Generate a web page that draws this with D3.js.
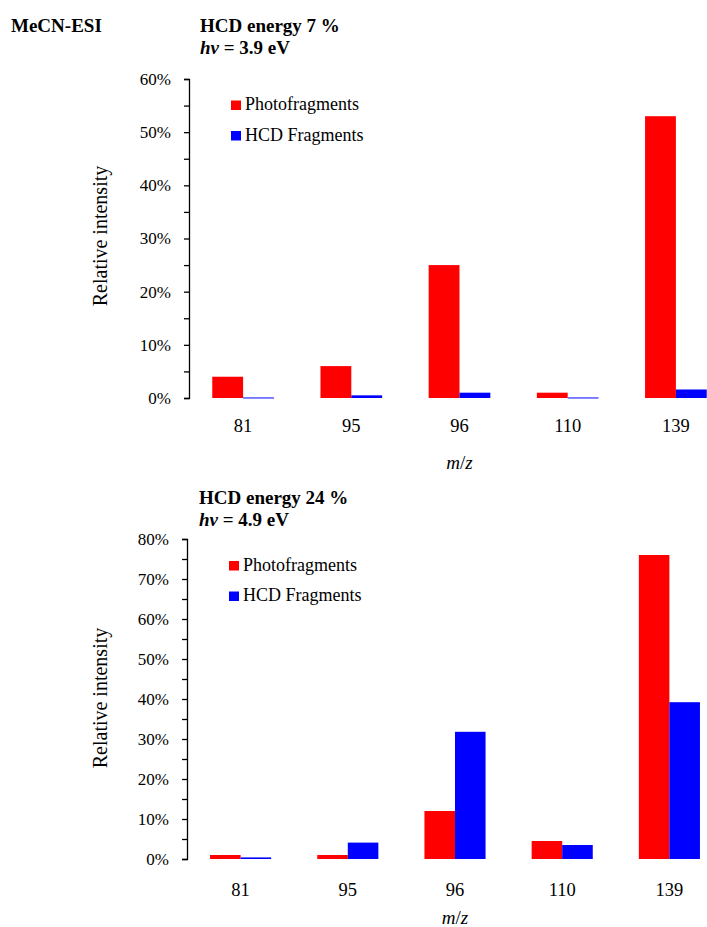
<!DOCTYPE html>
<html>
<head>
<meta charset="utf-8">
<script src="https://cdn.jsdelivr.net/npm/d3@7/dist/d3.min.js"></script>
<style>
  html, body { margin: 0; padding: 0; background: #fff; }
  svg { display: block; }
</style>
</head>
<body>
<svg id="chart" width="707" height="927"></svg>
<script>
// m/z fragment channels
const categories = ["81", "95", "96", "110", "139"];
const seriesNames = ["Photofragments", "HCD Fragments"];
const seriesColors = ["#ff0000", "#0000ff"];

// Relative intensity (%) at HCD energy 7 %, hv = 3.9 eV
const photo7 = [4.0, 6.0, 25.0, 1.0, 53.0];
const hcd7 = [0.1, 0.5, 1.0, 0.1, 1.6];

// Relative intensity (%) at HCD energy 24 %, hv = 4.9 eV
const photo24 = [1.0, 1.0, 12.0, 4.5, 76.0];
const hcd24 = [0.4, 4.1, 31.8, 3.5, 39.2];

const yTicks7 = [0, 10, 20, 30, 40, 50, 60];
const yTicks24 = [0, 10, 20, 30, 40, 50, 60, 70, 80];

const SERIF = "'Liberation Serif', 'Times New Roman', Tinos, 'DejaVu Serif', serif";

const svg = d3.select("#chart");

function label(sel) {
  return sel.style("font-family", SERIF).attr("fill", "#000");
}

label(svg.append("text"))
  .attr("x", 11).attr("y", 32)
  .attr("font-size", 19).attr("font-weight", "bold")
  .text("MeCN-ESI");

function drawPanel(p) {
  const g = svg.append("g");

  // titles
  label(g.append("text"))
    .attr("x", p.titleX).attr("y", p.titleY)
    .attr("font-size", 19).attr("font-weight", "bold")
    .text(p.title);
  const sub = label(g.append("text"))
    .attr("x", p.titleX).attr("y", p.titleY + 22)
    .attr("font-size", 19).attr("font-weight", "bold");
  sub.append("tspan").attr("font-style", "italic").text("hv");
  sub.append("tspan").text(" = " + p.energy);

  const yMax = p.yTicks[p.yTicks.length - 1];
  const y = d3.scaleLinear().domain([0, yMax]).range([p.y0, p.yTop]);
  const x0 = d3.scaleBand().domain(categories)
    .range([p.axisX, p.axisX + p.step * categories.length])
    .paddingInner(p.pad).paddingOuter(p.pad / 2);
  const x1 = d3.scaleBand().domain(seriesNames).range([0, x0.bandwidth()]);

  // bars
  const rows = categories.map((c, i) => ({ c, vals: [p.a[i], p.b[i]] }));
  const grp = g.selectAll("g.cat").data(rows).join("g")
    .attr("class", "cat")
    .attr("transform", d => `translate(${x0(d.c)},0)`);
  grp.selectAll("rect")
    .data(d => d.vals.map((v, k) => ({ v, k })))
    .join("rect")
    .attr("x", d => x1(seriesNames[d.k]))
    .attr("width", x1.bandwidth())
    .attr("y", d => y(d.v))
    .attr("height", d => Math.max(1, p.y0 - y(d.v)))
    .attr("fill", d => seriesColors[d.k]);

  // y axis with major and minor ticks
  const minor = d3.range(5, yMax, 10);
  const axisG = g.append("g").attr("transform", `translate(${p.axisX},0)`);
  axisG.call(d3.axisLeft(y).tickValues(minor).tickSize(5).tickFormat(""))
    .call(a => a.select(".domain").remove());
  axisG.append("g")
    .call(d3.axisLeft(y).tickValues(p.yTicks).tickSize(5).tickSizeOuter(5).tickPadding(13)
      .tickFormat(d => d + "%"))
    .call(a => label(a.selectAll("text")).attr("font-size", 17));
  axisG.selectAll("line").attr("stroke", "#000").attr("stroke-width", 1.3);
  axisG.selectAll(".domain").attr("stroke", "#000").attr("stroke-width", 1.3);

  // category labels
  label(g.selectAll("text.cat").data(categories).join("text"))
    .attr("class", "cat")
    .attr("x", d => x0(d) + x0.bandwidth() / 2)
    .attr("y", p.y0 + p.labelDy)
    .attr("text-anchor", "middle")
    .attr("font-size", 18.5)
    .text(d => d);

  // axis titles
  const xt = label(g.append("text"))
    .attr("x", p.axisX + p.step * 2.5).attr("y", p.y0 + p.titleDy)
    .attr("text-anchor", "middle").attr("font-size", 19)
    .attr("font-style", "italic");
  xt.append("tspan").text("m");
  xt.append("tspan").attr("font-style", "normal").text("/");
  xt.append("tspan").text("z");

  label(g.append("text"))
    .attr("transform", `translate(${p.yLabelX},${p.yLabelY}) rotate(-90)`)
    .attr("text-anchor", "middle").attr("font-size", 20)
    .text("Relative intensity");

  // legend
  seriesNames.forEach((name, k) => {
    g.append("rect")
      .attr("x", p.legX).attr("y", p.legY + k * 30.5)
      .attr("width", 10).attr("height", 9.5)
      .attr("fill", seriesColors[k]);
    label(g.append("text"))
      .attr("x", p.legX + 14).attr("y", p.legY + 9.5 + k * 30.5)
      .attr("font-size", 18)
      .text(name);
  });
}

drawPanel({
  title: "HCD energy 7 %", energy: "3.9 eV", titleX: 200, titleY: 32,
  a: photo7, b: hcd7, yTicks: yTicks7,
  axisX: 189, y0: 398, yTop: 79, step: 108.2, pad: 0.43,
  labelDy: 34, titleDy: 71, yLabelX: 107, yLabelY: 236,
  legX: 231, legY: 100.5
});

drawPanel({
  title: "HCD energy 24 %", energy: "4.9 eV", titleX: 199, titleY: 503.5,
  a: photo24, b: hcd24, yTicks: yTicks24,
  axisX: 187, y0: 859, yTop: 539, step: 107.2, pad: 0.43,
  labelDy: 37, titleDy: 65, yLabelX: 107, yLabelY: 698,
  legX: 229, legY: 561
});
</script>
</body>
</html>
